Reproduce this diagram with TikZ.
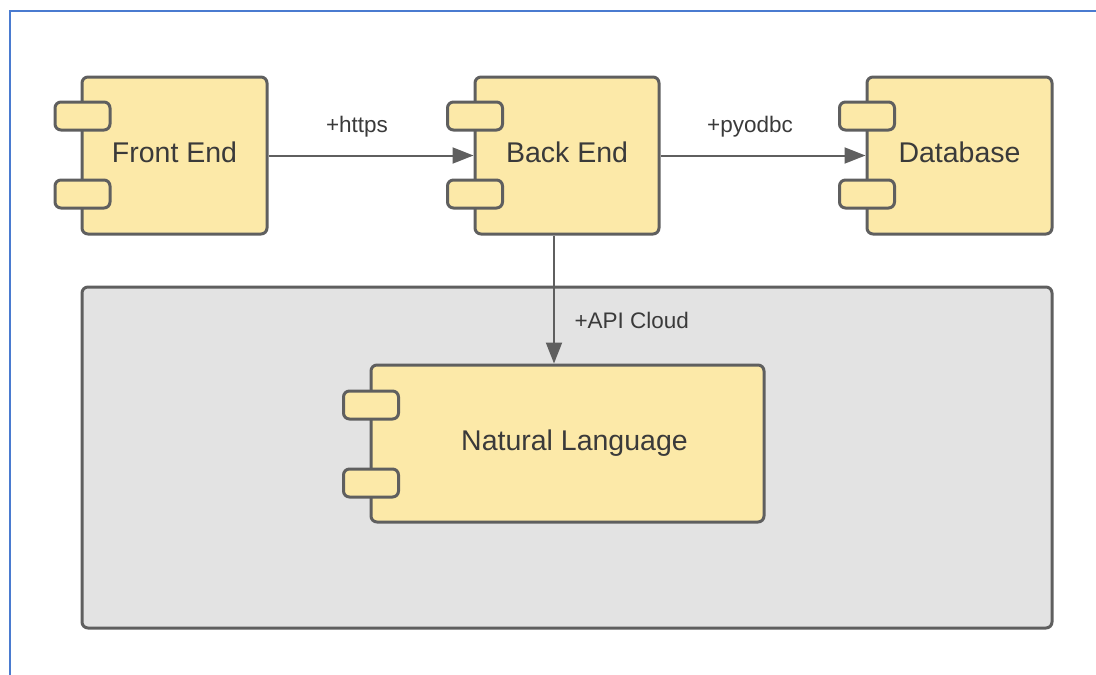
\documentclass[tikz,border=0pt]{standalone}
\usepackage{fontspec}
\setmainfont{Liberation Sans}
\usetikzlibrary{arrows.meta}
\definecolor{compfill}{HTML}{FCE9A8}
\definecolor{edgegray}{HTML}{5F5F5F}
\definecolor{txt}{HTML}{3A3A3A}
\definecolor{pkgfill}{HTML}{E3E3E3}
\definecolor{frameblue}{HTML}{4A7BD0}
\begin{document}
\begin{tikzpicture}[x=1pt,y=-1pt,
  comp/.style={draw=edgegray, line width=3pt, fill=compfill, rounded corners=6pt,
    inner sep=0pt, text height=14pt, text depth=0pt, text=txt,
    font=\fontsize{28.5}{34}\selectfont},
  port/.style={draw=edgegray, line width=3pt, fill=compfill, rounded corners=6pt,
    minimum width=55pt, minimum height=28pt, inner sep=0pt},
  pkg/.style={draw=edgegray, line width=3pt, fill=pkgfill, rounded corners=6pt, inner sep=0pt},
  link/.style={draw=edgegray, line width=2pt, -{Triangle[length=21pt,width=16pt]}},
  lbl/.style={text=txt, font=\fontsize{22.5}{27}\selectfont}]
  \useasboundingbox (0,0) rectangle (1096,675);

  % page frame
  \draw[frameblue, line width=2pt] (10,675) -- (10,11) -- (1096,11);

  % cloud package
  \node[pkg, minimum width=970pt, minimum height=341pt] (cloud) at (567,457.5) {};

  % components
  \node[comp, minimum width=185pt, minimum height=157pt] (fe) at (174.5,155.5) {Front End};
  \node[comp, minimum width=184pt, minimum height=157pt] (be) at (567,155.5) {Back End};
  \node[comp, minimum width=185pt, minimum height=157pt] (db) at (959.5,155.5) {Database};
  \node[comp, minimum width=393pt, minimum height=157pt] (nl) at (567.5,443.5) {\hspace*{14pt}Natural Language};

  % component ports
  \node[port] (fe1) at (82.5,116) {};
  \node[port] (fe2) at (82.5,194) {};
  \node[port] (be1) at (475,116) {};
  \node[port] (be2) at (475,194) {};
  \node[port] (db1) at (867,116) {};
  \node[port] (db2) at (867,194) {};
  \node[port] (nl1) at (371,405) {};
  \node[port] (nl2) at (371,483) {};

  % connectors
  \draw[link] (fe.east) -- (be.west);
  \draw[link] (be.east) -- (db.west);
  \coordinate (apitop) at ([xshift=-13pt]be.south);
  \draw[link] (apitop) -- (apitop |- nl.north);

  % connector labels
  \node[lbl] (l1) at (357,127) {+https};
  \node[lbl] (l2) at (750,127) {+pyodbc};
  \node[lbl, anchor=west] (l3) at (571,320) {+API Cloud};
\end{tikzpicture}
\end{document}
